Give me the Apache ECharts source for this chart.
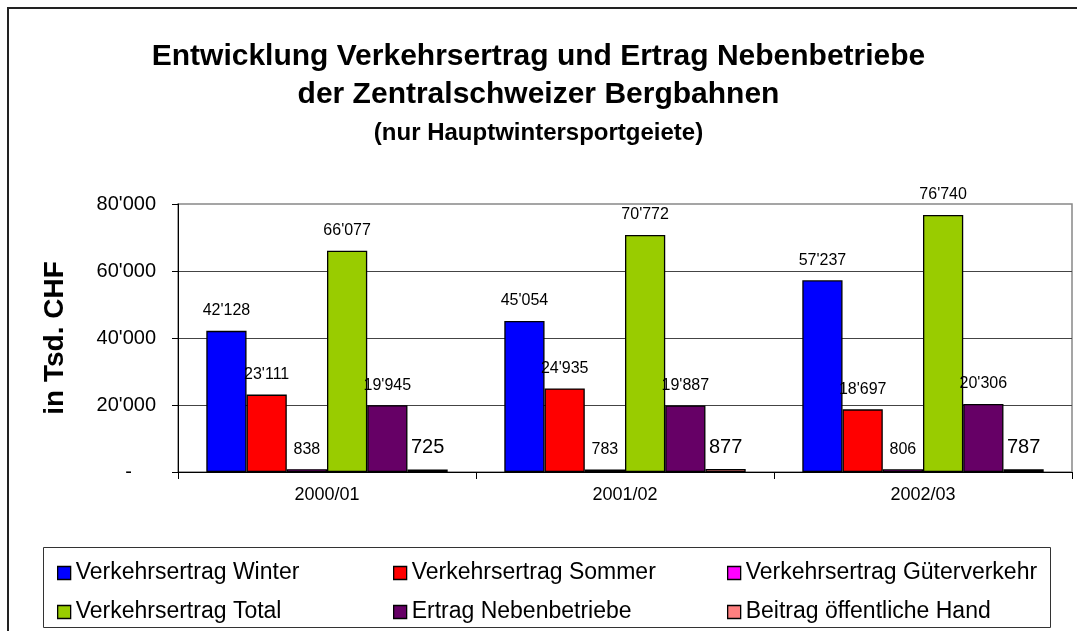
<!DOCTYPE html>
<html>
<head>
<meta charset="utf-8">
<script src="https://cdn.jsdelivr.net/npm/echarts@6/dist/echarts.min.js"></script>
<style>
  html, body { margin: 0; padding: 0; background: #fff; }
  #chart { width: 1077px; height: 631px; }
</style>
</head>
<body>
<div id="chart"></div>
<script>
// 数据
const categories = ['2000/01', '2001/02', '2002/03']
const winter = [42128, 45054, 57237]
const sommer = [23111, 24935, 18697]
const gueter = [838, 783, 806]
const total = [66077, 70772, 76740]
const neben = [19945, 19887, 20306]
const hand = [725, 877, 787]
const seriesNames = [
  'Verkehrsertrag Winter',
  'Verkehrsertrag Sommer',
  'Verkehrsertrag Güterverkehr',
  'Verkehrsertrag Total',
  'Ertrag Nebenbetriebe',
  'Beitrag öffentliche Hand'
]
const colors = ['#0000ff', '#ff0000', '#ff00ff', '#99cc00', '#660066', '#ff8080']

const font = 'Liberation Sans, Arial, sans-serif'

// 千位分隔 42'128
const fmt = (v) => String(v).replace(/\B(?=(\d{3})+(?!\d))/g, "'")

const mChart = echarts.init(document.getElementById('chart'))

const makeBar = (i, data, labelSize) => ({
  type: 'bar',
  name: seriesNames[i],
  data: data,
  itemStyle: { color: colors[i], borderColor: '#000', borderWidth: 1.3 },
  barGap: '0%',
  barCategoryGap: '19%',
  label: {
    show: true,
    position: 'top',
    distance: 12,
    color: '#000',
    fontFamily: font,
    fontSize: labelSize,
    formatter: (p) => fmt(p.value)
  }
})

// 图例按列排
const legendCol = (left, names) => ({
  orient: 'vertical',
  left: left,
  top: 556,
  itemWidth: 13,
  itemHeight: 13,
  itemGap: 15,
  icon: 'rect',
  selectedMode: false,
  itemStyle: { borderColor: '#000', borderWidth: 1.3 },
  textStyle: { fontFamily: font, fontSize: 23, lineHeight: 24, color: '#000' },
  data: names
})

const options = {
  animation: false,
  title: {
    text: 'Entwicklung Verkehrsertrag und Ertrag Nebenbetriebe\nder Zentralschweizer Bergbahnen',
    subtext: '(nur Hauptwintersportgeiete)',
    left: 'center',
    top: 33,
    itemGap: 6,
    textStyle: { fontFamily: font, fontSize: 30, fontWeight: 'bold', lineHeight: 38, color: '#000' },
    subtextStyle: { fontFamily: font, fontSize: 24, fontWeight: 'bold', lineHeight: 26, color: '#000' }
  },
  // 外框和图例框
  graphic: [
    { type: 'rect', shape: { x: 8, y: 8, width: 1200, height: 800 }, style: { fill: 'none', stroke: '#222', lineWidth: 2 }, silent: true },
    { type: 'rect', shape: { x: 43.5, y: 547.5, width: 1007, height: 80 }, style: { fill: '#fff', stroke: '#333', lineWidth: 1 }, silent: true, z: -1 }
  ],
  legend: [
    legendCol(52, [seriesNames[0], seriesNames[3]]),
    legendCol(388, [seriesNames[1], seriesNames[4]]),
    legendCol(722, [seriesNames[2], seriesNames[5]])
  ],
  grid: {
    left: 178,
    right: 5,
    top: 204,
    bottom: 159,
    show: true,
    borderColor: '#888',
    borderWidth: 1.5
  },
  xAxis: {
    type: 'category',
    data: categories,
    axisLine: { lineStyle: { color: '#000', width: 1 } },
    axisTick: { show: true, length: 7, lineStyle: { color: '#000' } },
    axisLabel: { fontFamily: font, fontSize: 18, color: '#000', margin: 14 }
  },
  yAxis: {
    type: 'value',
    min: 0,
    max: 80000,
    interval: 20000,
    name: 'in Tsd. CHF',
    nameLocation: 'middle',
    nameGap: 109,
    nameTextStyle: { fontFamily: font, fontSize: 28, fontWeight: 'bold', color: '#000' },
    axisLine: { show: true, lineStyle: { color: '#000', width: 1 } },
    axisTick: { show: true, length: 6, lineStyle: { color: '#000' } },
    splitLine: { show: true, showMaxLine: false, lineStyle: { color: '#444', width: 1 } },
    axisLabel: {
      fontFamily: font,
      fontSize: 20,
      color: '#000',
      margin: 22,
      formatter: (v) => (v === 0 ? '{d|-}' : fmt(v)),
      rich: { d: { fontFamily: font, fontSize: 20, color: '#000', padding: [0, 24, 0, 0] } }
    }
  },
  series: [
    makeBar(0, winter, 16),
    makeBar(1, sommer, 16),
    makeBar(2, gueter, 16),
    makeBar(3, total, 16),
    makeBar(4, neben, 16),
    makeBar(5, hand, 20)
  ]
}

mChart.setOption(options)

window.addEventListener('resize', () => {
  mChart.resize()
})
</script>
</body>
</html>
